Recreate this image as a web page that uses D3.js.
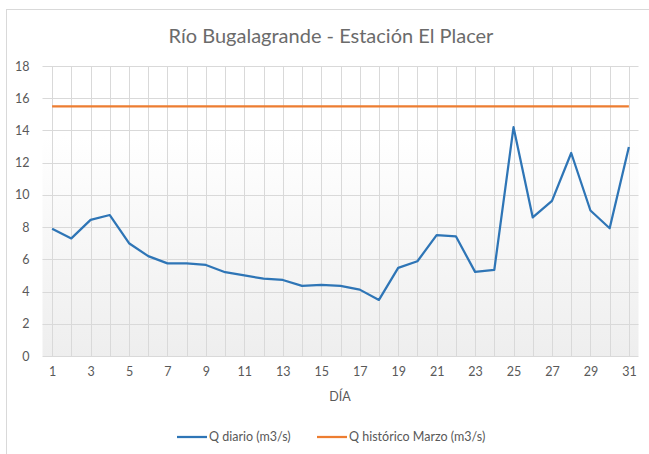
<!DOCTYPE html>
<meta charset="utf-8">
<style>
  body { margin: 0; background: #fff; }
  text { font-family: Lato, "Open Sans", sans-serif; fill: #595959; }
</style>
<svg width="649" height="454"></svg>
<script src="https://d3js.org/d3.v7.min.js"></script>
<script>
// data
var days = d3.range(1, 32);
var qDiario = [7.9, 7.3, 8.45, 8.75, 7.0, 6.2, 5.75, 5.75, 5.65, 5.2, 5.0, 4.8, 4.72, 4.35, 4.42,
  4.35, 4.12, 3.48, 5.47, 5.88, 7.5, 7.43, 5.22, 5.35, 14.2, 8.6, 9.63, 12.6, 9.03, 7.93, 12.97];
var qHistorico = days.map(function () { return 15.5; });
var yTicks = [0, 2, 4, 6, 8, 10, 12, 14, 16, 18];
var xTickDays = days.filter(function (d) { return d % 2 == 1; });

var svg = d3.select('svg');

// chart frame (runs off the picture at right and bottom)
svg.append('rect')
  .attr('x', 6.5).attr('y', 9.5).attr('width', 700).attr('height', 500)
  .attr('fill', '#fff').attr('stroke', '#d9d9d9');

var plotLeft = 42.5, plotRight = 638.5, plotTop = 66, plotBottom = 356;

var x = d3.scalePoint().domain(days).range([plotLeft, plotRight]).padding(0.5);
var y = d3.scaleLinear().domain([0, 18]).range([plotBottom, plotTop]);

// plot area gradient
var defs = svg.append('defs');
var grad = defs.append('linearGradient').attr('id', 'bg')
  .attr('x1', 0).attr('y1', 0).attr('x2', 0).attr('y2', 1);
grad.append('stop').attr('offset', '0%').attr('stop-color', '#ffffff');
grad.append('stop').attr('offset', '12%').attr('stop-color', '#ffffff');
grad.append('stop').attr('offset', '100%').attr('stop-color', '#eeeeee');

svg.append('rect')
  .attr('x', plotLeft).attr('y', y(15.5)).attr('width', plotRight - plotLeft)
  .attr('height', plotBottom - y(15.5))
  .attr('fill', 'url(#bg)');

// gridlines
var grid = svg.append('g').attr('stroke', '#d9d9d9').attr('stroke-width', 1);
grid.selectAll('.h').data(yTicks).enter().append('line')
  .attr('x1', plotLeft).attr('x2', plotRight)
  .attr('y1', function (d) { return Math.round(y(d)) + 0.5; })
  .attr('y2', function (d) { return Math.round(y(d)) + 0.5; });
grid.selectAll('.v').data(days).enter().append('line')
  .attr('x1', function (d) { return Math.round(x(d)) + 0.5; })
  .attr('x2', function (d) { return Math.round(x(d)) + 0.5; })
  .attr('y1', plotTop).attr('y2', plotBottom);

// axes
svg.append('g').attr('transform', 'translate(' + plotLeft + ',0)')
  .call(d3.axisLeft(y).tickValues(yTicks).tickSize(0).tickPadding(13));
svg.append('g').attr('transform', 'translate(0,' + plotBottom + ')')
  .call(d3.axisBottom(x).tickValues(xTickDays).tickSize(0).tickPadding(11));
svg.selectAll('.domain').remove();
svg.selectAll('.tick text').style('font-size', '12.5px').style('fill', '#595959')
  .style('font-family', 'Lato, sans-serif');

// series
var line = d3.line().x(function (d, i) { return x(days[i]); }).y(function (d) { return y(d); });
svg.append('path').datum(qHistorico).attr('d', line)
  .attr('fill', 'none').attr('stroke', '#ed7d31').attr('stroke-width', 2.25);
svg.append('path').datum(qDiario).attr('d', line)
  .attr('fill', 'none').attr('stroke', '#2e75b6').attr('stroke-width', 2.25)
  .attr('stroke-linejoin', 'round');

// titles
svg.append('text').attr('x', 331).attr('y', 43).attr('text-anchor', 'middle')
  .style('font-size', '20px').style('fill', '#6b6b6b')
  .text('Río Bugalagrande - Estación El Placer');
svg.append('text').attr('x', 340).attr('y', 401).attr('text-anchor', 'middle')
  .style('font-size', '12.5px').text('DÍA');

// legend
var legend = [
  { name: 'Q diario (m3/s)', color: '#2e75b6', x: 177 },
  { name: 'Q histórico Marzo (m3/s)', color: '#ed7d31', x: 317 }
];
var lg = svg.selectAll('.lg').data(legend).enter().append('g')
  .attr('transform', function (d) { return 'translate(' + d.x + ',437)'; });
lg.append('line').attr('x1', 0).attr('x2', 30).attr('y1', 0).attr('y2', 0)
  .attr('stroke', function (d) { return d.color; }).attr('stroke-width', 2.25);
lg.append('text').attr('x', 32).attr('y', 4).style('font-size', '12.5px')
  .text(function (d) { return d.name; });
</script>
